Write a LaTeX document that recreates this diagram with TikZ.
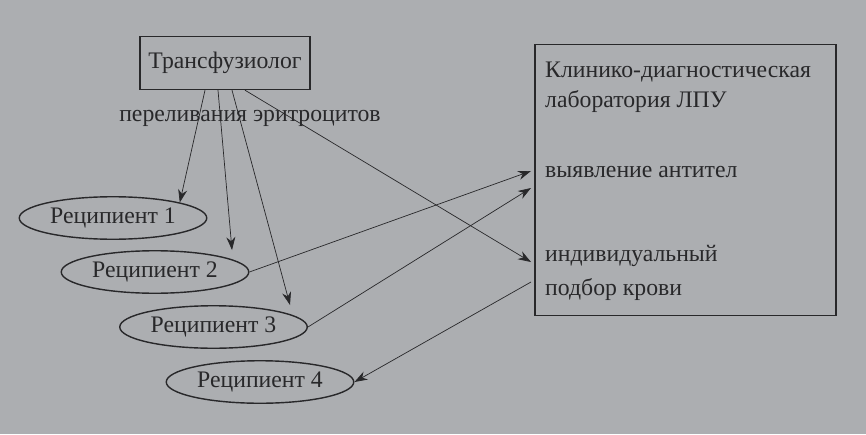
\documentclass[tikz,border=0pt]{standalone}
\usepackage{fontspec}
\setmainfont{Liberation Serif}
\usetikzlibrary{shapes.geometric,arrows.meta}
\definecolor{paper}{RGB}{172,174,177}
\definecolor{ink}{RGB}{40,40,42}
\tikzset{
  every node/.style={font=\fontsize{13.5}{16}\selectfont, text=ink},
  recip/.style={ellipse, draw=ink, thick, minimum width=3.75cm, minimum height=0.85cm, inner sep=0pt},
  arr/.style={draw=ink, -{Stealth[length=2.6mm,width=1.8mm]}}
}
\begin{document}
\begin{tikzpicture}
    \fill[paper] (0,0) rectangle (17.32,8.68);
    \useasboundingbox (0,0) rectangle (17.32,8.68);

    \node[rectangle, draw=ink, thick, minimum width=3.4cm, minimum height=1.06cm] (tr) at (4.5,7.42) {Трансфузиолог};
    \node[fill=paper, inner sep=1pt] (per) at (5.0,6.32) {переливания эритроцитов};

    \node[recip] (r1) at (2.26,4.32) {Реципиент 1};
    \node[recip] (r2) at (3.10,3.24) {Реципиент 2};
    \node[recip] (r3) at (4.27,2.14) {Реципиент 3};
    \node[recip] (r4) at (5.20,1.04) {Реципиент 4};

    \node[rectangle, draw=ink, thick, minimum width=6.02cm, minimum height=5.42cm] (lab) at (13.71,5.08) {};
    \node[anchor=west, align=left] (labname) at (10.78,6.94) {Клинико-диагностическая\\[1pt]лаборатория ЛПУ};
    \node[anchor=west] (abt) at (10.78,5.24) {выявление антител};
    \node[anchor=west, align=left] (sel) at (10.78,3.22) {индивидуальный\\[3pt]подбор крови};

    \coordinate (inA) at (10.62,5.26);
    \coordinate (inB) at (10.62,4.92);
    \coordinate (inC) at (10.62,3.44);
    \coordinate (outD) at (10.62,3.04);

    \draw[arr] ([xshift=-0.4cm]tr.south) -- (r1.north east);
    \draw[arr] ([xshift=-0.14cm]tr.south) -- (4.64,3.68);
    \draw[arr] ([xshift=0.14cm]tr.south) -- (5.8,2.58);
    \draw[arr] ([xshift=0.4cm]tr.south) -- (inC);
    \draw[arr] (r2.east) -- (inA);
    \draw[arr] (r3.east) -- (inB);
    \draw[arr] (outD) -- (r4.east);
\end{tikzpicture}
\end{document}
